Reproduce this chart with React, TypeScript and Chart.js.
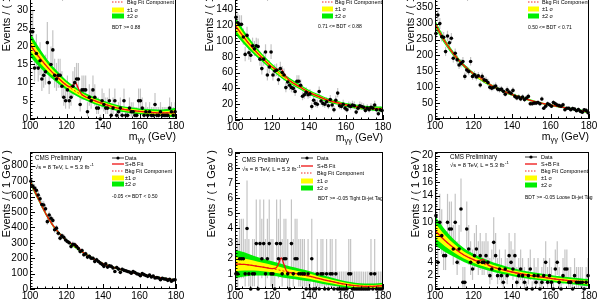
import { useEffect, useRef } from "react";
import { Chart, registerables } from "chart.js";

Chart.register(...registerables);

const FONT = "'Liberation Sans', Arial, Helvetica, sans-serif";
const RED = "#ee1111";
const GREEN = "#00ee00";
const YELLOW = "#ffff00";
const ERR_GREY = "#c4c4c4";

// Diphoton mass window, 1 GeV bins
const MASS_LO = 100;
const MASS_HI = 180;
const MASS_STEP = 20;

// Sampling points of the background fit and its uncertainty bands (GeV)
const FIT_X = [100, 105, 110, 115, 120, 125, 130, 135, 140, 145, 150, 155, 160, 165, 170, 175, 180];
// Sampling points of the signal+background fit, denser around the peak (GeV)
const SB_X = [100, 105, 110, 115, 120, 122, 123.5, 125, 126.5, 128, 130, 135, 140, 145, 150, 155, 160, 165, 170, 175, 180];

// 68% Poisson intervals for small counts
const POISSON_LO = [0, 0.173, 0.708, 1.367, 2.086, 2.84, 3.62, 4.419, 5.232, 6.057, 6.891, 7.734, 8.585, 9.441, 10.3, 11.17, 12.04, 12.92, 13.8, 14.68, 15.57, 16.45, 17.35, 18.24, 19.14, 20.03];
const POISSON_HI = [1.148, 3.3, 4.638, 5.918, 7.163, 8.382, 9.584, 10.77, 11.95, 13.11, 14.27, 15.42, 16.56, 17.7, 18.83, 19.96, 21.08, 22.2, 23.32, 24.44, 25.55, 26.66, 27.76, 28.87, 29.97, 31.06];

// ---- BDT >= 0.88
const cat0Counts = [24, 24, 14, 18, 14, 16, 11, 12, 13, 21, 10, 15, 19, 12, 11, 12, 12, 9, 6, 5, 8, 5, 6, 9, 10, 11, 11, 4, 8, 8, 8, 2, 6, 5, 8, 6, 3, 3, 0, 5, 4, 3, 3, 5, 1, 3, 5, 1, 2, 3, 1, 5, 1, 1, 3, 2, 2, 1, 1, 5, 5, 3, 1, 2, 1, 2, 1, 1, 4, 1, 1, 2, 1, 1, 1, 1, 3, 2, 1, 2];
const cat0Bkg = [20.5, 17.0, 14.0, 11.5, 9.3, 7.6, 6.2, 5.1, 4.2, 3.4, 2.8, 2.4, 2.1, 1.9, 1.7, 1.7, 1.8];
const cat0SB = [20.5, 17.0, 14.0, 11.5, 9.3, 8.8, 9.3, 9.9, 8.4, 7.0, 6.2, 5.1, 4.2, 3.4, 2.8, 2.4, 2.1, 1.9, 1.7, 1.7, 1.8];
const cat0Err1 = [1.65, 1.3, 1.0, 0.8, 0.65, 0.58, 0.5, 0.48, 0.45, 0.43, 0.4, 0.4, 0.4, 0.43, 0.45, 0.53, 0.65];
const cat0Err2 = [3.3, 2.6, 2.0, 1.6, 1.3, 1.15, 1.0, 0.95, 0.9, 0.85, 0.8, 0.8, 0.8, 0.85, 0.9, 1.05, 1.3];

// ---- 0.71 <= BDT < 0.88
const cat1Counts = [130, 123, 121, 121, 105, 83, 107, 85, 82, 94, 90, 94, 93, 77, 65, 77, 86, 57, 67, 86, 57, 62, 63, 51, 65, 60, 57, 41, 48, 44, 41, 40, 36, 49, 49, 44, 30, 32, 35, 32, 33, 17, 25, 21, 20, 36, 24, 21, 20, 23, 18, 26, 19, 13, 25, 34, 18, 17, 20, 15, 13, 18, 17, 19, 18, 10, 15, 18, 17, 16, 12, 15, 13, 16, 15, 19, 13, 8, 13, 12];
const cat1Bkg = [120, 104, 90, 78, 67, 57, 49, 42, 35, 30, 25, 22, 19, 17, 15.5, 14.5, 13.5];
const cat1SB = [120, 104, 90, 78, 67, 64.5, 64, 64, 59, 53.5, 49, 42, 35, 30, 25, 22, 19, 17, 15.5, 14.5, 13.5];
const cat1Err1 = [5.5, 4.3, 3.3, 2.5, 2.1, 1.9, 1.75, 1.6, 1.5, 1.4, 1.3, 1.25, 1.25, 1.25, 1.3, 1.4, 1.6];
const cat1Err2 = [11, 8.5, 6.5, 5, 4.2, 3.8, 3.5, 3.2, 3.0, 2.8, 2.6, 2.5, 2.5, 2.5, 2.6, 2.8, 3.2];

// ---- 0.50 <= BDT < 0.71
const cat2Counts = [269, 327, 300, 259, 257, 212, 261, 240, 254, 191, 207, 186, 170, 175, 181, 134, 154, 149, 181, 134, 139, 132, 136, 107, 134, 123, 121, 115, 100, 97, 100, 104, 94, 92, 94, 87, 78, 92, 85, 81, 90, 71, 66, 69, 63, 69, 61, 66, 71, 48, 48, 50, 50, 52, 48, 63, 34, 40, 48, 45, 40, 52, 48, 44, 42, 40, 45, 29, 34, 34, 29, 33, 31, 26, 30, 24, 21, 29, 27, 20];
const cat2Bkg = [300, 245, 202, 168, 142, 120, 103, 89, 77, 67, 58, 50, 44, 38, 33, 27, 22];
const cat2SB = [300, 245, 202, 168, 142, 135, 131, 126, 119, 111, 103, 89, 77, 67, 58, 50, 44, 38, 33, 27, 22];
const cat2Err1 = [6, 4.5, 3.5, 3, 2.5, 2.3, 2.1, 2, 1.9, 1.8, 1.7, 1.5, 1.5, 1.5, 1.6, 1.8, 2];
const cat2Err2 = [12, 9, 7, 6, 5, 4.5, 4.2, 4, 3.8, 3.5, 3.3, 3, 3, 3, 3.2, 3.5, 4];

// ---- -0.05 <= BDT < 0.50
const cat3Counts = [700, 668, 655, 640, 610, 585, 548, 545, 520, 437, 480, 459, 445, 384, 395, 362, 330, 345, 336, 318, 308, 300, 276, 290, 287, 276, 262, 243, 250, 222, 228, 207, 212, 200, 200, 179, 190, 178, 168, 160, 147, 163, 142, 150, 147, 136, 114, 140, 129, 108, 128, 121, 118, 114, 110, 103, 114, 107, 99, 95, 86, 100, 93, 88, 82, 90, 78, 84, 71, 74, 71, 60, 70, 65, 64, 56, 63, 50, 58, 60];
const cat3Bkg = [700, 575, 460, 375, 315, 270, 230, 195, 165, 143, 125, 110, 97, 86, 76, 66, 57];
const cat3SB = [700, 575, 460, 375, 315, 300, 293, 290, 270, 249, 230, 195, 165, 143, 125, 110, 97, 86, 76, 66, 57];
const cat3Err1 = [9, 7, 5.5, 4.5, 4, 3.5, 3.3, 3, 3, 2.8, 2.5, 2.5, 2.5, 2.5, 2.5, 2.8, 3.3];
const cat3Err2 = [18, 14, 11, 9, 8, 7, 6.5, 6, 6, 5.5, 5, 5, 5, 5, 5, 5.5, 6.5];

// ---- BDT >= -0.05, tight di-jet tag
const cat4Counts = [1, 1, 2, 2, 2, 1, 4, 1, 0, 1, 1, 3, 0, 3, 2, 3, 1, 2, 3, 1, 1, 0, 3, 2, 3, 1, 2, 2, 1, 0, 3, 1, 2, 2, 1, 1, 1, 1, 0, 1, 0, 2, 0, 0, 1, 0, 1, 1, 0, 1, 0, 1, 1, 0, 1, 0, 0, 0, 0, 0, 0, 1, 1, 0, 0, 0, 0, 0, 0, 0, 0, 0, 0, 1, 0, 1, 0, 0, 0, 0];
const cat4Bkg = [1.65, 1.62, 1.55, 1.45, 1.35, 1.22, 1.08, 0.97, 0.85, 0.7, 0.55, 0.42, 0.3, 0.22, 0.18, 0.18, 0.22];
const cat4SB = [1.65, 1.62, 1.55, 1.45, 1.35, 1.38, 1.65, 2.05, 1.6, 1.15, 1.08, 0.97, 0.85, 0.7, 0.55, 0.42, 0.3, 0.22, 0.18, 0.18, 0.22];
const cat4Err1 = [0.47, 0.4, 0.33, 0.28, 0.24, 0.22, 0.2, 0.19, 0.17, 0.15, 0.14, 0.12, 0.11, 0.1, 0.09, 0.09, 0.1];
const cat4Err2 = [0.95, 0.8, 0.65, 0.55, 0.48, 0.44, 0.4, 0.37, 0.34, 0.3, 0.27, 0.24, 0.21, 0.19, 0.18, 0.18, 0.2];

// ---- BDT >= -0.05, loose di-jet tag
const cat5Counts = [11, 4, 10, 8, 5, 5, 10, 9, 9, 6, 10, 4, 6, 12, 1, 1, 9, 6, 4, 3, 5, 6, 4, 5, 4, 4, 5, 4, 2, 3, 7, 5, 2, 3, 2, 1, 3, 2, 5, 4, 3, 5, 1, 2, 3, 2, 1, 0, 2, 3, 0, 2, 1, 2, 0, 1, 2, 4, 1, 2, 1, 0, 3, 4, 1, 0, 2, 3, 3, 1, 1, 0, 2, 1, 1, 1, 1, 0, 1, 2];
const cat5Bkg = [8.8, 7.3, 6.1, 5.1, 4.4, 3.8, 3.3, 2.9, 2.55, 2.25, 2.0, 1.8, 1.6, 1.4, 1.25, 1.1, 0.95];
const cat5SB = [8.8, 7.3, 6.1, 5.1, 4.4, 4.2, 4.3, 4.45, 3.9, 3.55, 3.3, 2.9, 2.55, 2.25, 2.0, 1.8, 1.6, 1.4, 1.25, 1.1, 0.95];
const cat5Err1 = [1.1, 0.85, 0.65, 0.52, 0.45, 0.4, 0.35, 0.33, 0.3, 0.29, 0.27, 0.26, 0.25, 0.25, 0.25, 0.26, 0.28];
const cat5Err2 = [2.2, 1.7, 1.3, 1.05, 0.9, 0.8, 0.7, 0.65, 0.6, 0.58, 0.55, 0.52, 0.5, 0.5, 0.5, 0.52, 0.55];

type Legend = {
  lx: number; lw: number; tx: number; rows: number[]; bx: number;
  cmsX: number; cmsY: number; lumiY: number;
};

type Panel = {
  L: number; R: number; T: number; B: number;
  yMax: number; yStep: number;
  counts: number[]; bkg: number[]; sb: number[]; err1: number[]; err2: number[];
  cut: string; yTitleX: number; yTitleTop: number; leg: Legend;
};

const PANELS: Panel[] = [
  {
    L: 30, R: 176, T: -17, B: 119, yMax: 37.4, yStep: 5,
    counts: cat0Counts, bkg: cat0Bkg, sb: cat0SB, err1: cat0Err1, err2: cat0Err2,
    cut: "BDT >= 0.88", yTitleX: 7, yTitleTop: -36,
    leg: { lx: 82, lw: 12, tx: 97, rows: [6, 12, 19, 27, 33, 45], bx: 82, cmsX: 5, cmsY: 6, lumiY: 15 },
  },
  {
    L: 235, R: 383, T: -17, B: 120, yMax: 173.3, yStep: 20,
    counts: cat1Counts, bkg: cat1Bkg, sb: cat1SB, err1: cat1Err1, err2: cat1Err2,
    cut: "0.71 <= BDT < 0.88", yTitleX: 210, yTitleTop: -36,
    leg: { lx: 87, lw: 11, tx: 100, rows: [6, 12, 19, 26, 33, 44], bx: 83, cmsX: 5, cmsY: 6, lumiY: 15 },
  },
  {
    L: 435, R: 589, T: -17, B: 119, yMax: 427.7, yStep: 50,
    counts: cat2Counts, bkg: cat2Bkg, sb: cat2SB, err1: cat2Err1, err2: cat2Err2,
    cut: "0.50 <= BDT < 0.71", yTitleX: 411, yTitleTop: -36,
    leg: { lx: 93, lw: 11, tx: 107, rows: [6, 12, 19, 26, 33, 45], bx: 93, cmsX: 5, cmsY: 6, lumiY: 15 },
  },
  {
    L: 30, R: 176, T: 152, B: 289, yMax: 889, yStep: 100,
    counts: cat3Counts, bkg: cat3Bkg, sb: cat3SB, err1: cat3Err1, err2: cat3Err2,
    cut: "-0.05 <= BDT < 0.50", yTitleX: 7, yTitleTop: 150,
    leg: { lx: 82, lw: 12, tx: 95, rows: [6, 12, 19, 26, 32, 45], bx: 82, cmsX: 5, cmsY: 6, lumiY: 15 },
  },
  {
    L: 235, R: 383, T: 152, B: 289, yMax: 9.05, yStep: 1,
    counts: cat4Counts, bkg: cat4Bkg, sb: cat4SB, err1: cat4Err1, err2: cat4Err2,
    cut: "BDT >= -0.05 Tight Di-jet Tag", yTitleX: 212, yTitleTop: 150,
    leg: { lx: 66, lw: 12, tx: 82, rows: [6, 14, 21, 29, 36, 47], bx: 83, cmsX: 7, cmsY: 8, lumiY: 17 },
  },
  {
    L: 435, R: 589, T: 152, B: 289, yMax: 20.55, yStep: 2,
    counts: cat5Counts, bkg: cat5Bkg, sb: cat5SB, err1: cat5Err1, err2: cat5Err2,
    cut: "BDT >= -0.05 Loose Di-jet Tag", yTitleX: 416, yTitleTop: 150,
    leg: { lx: 90, lw: 12, tx: 106, rows: [5, 12, 19, 26, 33, 46], bx: 90, cmsX: 15, cmsY: 5, lumiY: 13 },
  },
];

function poisson(n: number): [number, number] {
  if (n < POISSON_LO.length) return [POISSON_LO[n], POISSON_HI[n]];
  const s = Math.sqrt(n);
  return [n - s + 0.5, n + s + 0.5];
}

function drawErrorBars(chart: any) {
  const { ctx, chartArea: a, scales } = chart;
  const pts = chart.data.datasets[0].data as { x: number; y: number }[];
  ctx.save();
  ctx.beginPath();
  ctx.rect(a.left, a.top, a.right - a.left, a.bottom - a.top);
  ctx.clip();
  ctx.strokeStyle = ERR_GREY;
  ctx.lineWidth = 1.2;
  for (const pt of pts) {
    const [lo, hi] = poisson(pt.y);
    const px = scales.x.getPixelForValue(pt.x);
    ctx.beginPath();
    ctx.moveTo(px, scales.y.getPixelForValue(lo));
    ctx.lineTo(px, scales.y.getPixelForValue(hi));
    ctx.stroke();
  }
  ctx.restore();
}

function drawFrame(chart: any, p: Panel) {
  const { ctx, chartArea: a, scales } = chart;
  ctx.save();
  ctx.strokeStyle = "#000";
  ctx.lineWidth = 1;
  ctx.strokeRect(a.left + 0.5, a.top + 0.5, a.right - a.left - 1, a.bottom - a.top - 1);
  ctx.beginPath();
  for (let v = MASS_LO; v <= MASS_HI + 1e-6; v += 4) {
    const px = Math.round(scales.x.getPixelForValue(v)) + 0.5;
    const len = (v - MASS_LO) % MASS_STEP === 0 ? 5 : 2.5;
    ctx.moveTo(px, a.bottom);
    ctx.lineTo(px, a.bottom - len);
  }
  const minor = p.yStep / 5;
  for (let k = 0; k * minor <= p.yMax + 1e-9; k++) {
    const py = Math.round(scales.y.getPixelForValue(k * minor)) + 0.5;
    const len = k % 5 === 0 ? 5 : 2.5;
    ctx.moveTo(a.left, py);
    ctx.lineTo(a.left + len, py);
  }
  ctx.stroke();
  ctx.restore();
}

function drawTexts(chart: any, p: Panel) {
  const { ctx, chartArea: a } = chart;
  const lg = p.leg;
  const ox = p.L - 30;
  const oy = p.T - 8;
  ctx.save();
  ctx.fillStyle = "#000";
  ctx.textBaseline = "middle";

  // y-axis title, aligned towards the top of the axis
  ctx.save();
  ctx.translate(p.yTitleX - ox, p.yTitleTop - oy);
  ctx.rotate(-Math.PI / 2);
  ctx.textAlign = "right";
  ctx.font = `11px ${FONT}`;
  ctx.fillText("Events / ( 1 GeV )", 0, 0);
  ctx.restore();

  // x-axis title m_γγ (GeV), aligned to the right end of the axis
  ctx.textAlign = "left";
  const big = `10.5px ${FONT}`;
  const small = `7.5px ${FONT}`;
  ctx.font = big;
  const wm = ctx.measureText("m").width;
  const wu = ctx.measureText(" (GeV)").width;
  ctx.font = small;
  const wg = ctx.measureText("γγ").width;
  const xt = a.right - (wm + wg + wu);
  const yt = a.bottom + 18;
  ctx.font = big;
  ctx.fillText("m", xt, yt);
  ctx.font = small;
  ctx.fillText("γγ", xt + wm, yt + 3);
  ctx.font = big;
  ctx.fillText(" (GeV)", xt + wm + wg, yt);

  // experiment label
  ctx.font = `6.3px ${FONT}`;
  ctx.fillText("CMS Preliminary", a.left + lg.cmsX, a.top + lg.cmsY);
  ctx.font = `5.8px ${FONT}`;
  const lumi = "√s = 8 TeV, L = 5.3 fb";
  ctx.fillText(lumi, a.left + lg.cmsX, a.top + lg.lumiY);
  const wl = ctx.measureText(lumi).width;
  ctx.font = `4.3px ${FONT}`;
  ctx.fillText("-1", a.left + lg.cmsX + wl + 0.5, a.top + lg.lumiY - 2);

  // legend
  const x0 = a.left + lg.lx;
  const x1 = x0 + lg.lw;
  const tx = a.left + lg.tx;
  const r = lg.rows.map((v) => a.top + v);
  ctx.font = `5.5px ${FONT}`;

  ctx.strokeStyle = "#000";
  ctx.lineWidth = 0.8;
  ctx.beginPath();
  ctx.moveTo(x0, r[0]);
  ctx.lineTo(x1, r[0]);
  ctx.stroke();
  ctx.beginPath();
  ctx.arc((x0 + x1) / 2, r[0], 1.6, 0, Math.PI * 2);
  ctx.fill();
  ctx.fillText("Data", tx, r[0]);

  ctx.strokeStyle = RED;
  ctx.lineWidth = 1.3;
  ctx.beginPath();
  ctx.moveTo(x0, r[1]);
  ctx.lineTo(x1, r[1]);
  ctx.stroke();
  ctx.fillText("S+B Fit", tx, r[1]);

  ctx.lineWidth = 0.9;
  ctx.setLineDash([1.5, 1.5]);
  ctx.beginPath();
  ctx.moveTo(x0, r[2]);
  ctx.lineTo(x1, r[2]);
  ctx.stroke();
  ctx.setLineDash([]);
  ctx.fillText("Bkg Fit Component", tx, r[2]);

  ctx.fillStyle = YELLOW;
  ctx.fillRect(x0, r[3] - 2.5, lg.lw, 5);
  ctx.fillStyle = GREEN;
  ctx.fillRect(x0, r[4] - 2.5, lg.lw, 5);
  ctx.fillStyle = "#000";
  ctx.fillText("±1 σ", tx, r[3]);
  ctx.fillText("±2 σ", tx, r[4]);

  ctx.font = `5px ${FONT}`;
  ctx.fillText(p.cut, a.left + lg.bx, r[5]);
  ctx.restore();
}

function MassPanel({ p }: { p: Panel }) {
  const ref = useRef<HTMLCanvasElement>(null);
  const cl = p.L - 30;
  const ct = p.T - 8;
  const cw = p.R - cl + 10;
  const ch = p.B - ct + 30;

  useEffect(() => {
    const canvas = ref.current;
    if (!canvas) return;
    const points = p.counts.map((c, i) => ({ x: MASS_LO + 0.5 + i, y: c }));
    const line = (vals: number[], xs: number[]) => xs.map((x, i) => ({ x, y: vals[i] }));
    const band = (w: number[], sign: number) => FIT_X.map((x, i) => ({ x, y: p.bkg[i] + sign * w[i] }));
    const none = "rgba(0,0,0,0)";
    const curve = { pointRadius: 0, cubicInterpolationMode: "monotone" as const };
    const tickFont = { family: FONT, size: 10 };

    const chart = new Chart(canvas, {
      type: "line",
      data: {
        datasets: [
          {
            data: points, showLine: false, pointRadius: 1.8, pointBackgroundColor: "#000",
            pointBorderWidth: 0, borderColor: "#000", clip: false,
          },
          { data: line(p.sb, SB_X), borderColor: RED, borderWidth: 1.3, fill: false, ...curve },
          { data: line(p.bkg, FIT_X), borderColor: RED, borderWidth: 0.9, borderDash: [2, 2], fill: false, ...curve },
          { data: band(p.err1, 1), borderColor: none, borderWidth: 0, backgroundColor: YELLOW, fill: "+1", ...curve },
          { data: band(p.err1, -1), borderColor: none, borderWidth: 0, fill: false, ...curve },
          { data: band(p.err2, 1), borderColor: none, borderWidth: 0, backgroundColor: GREEN, fill: "+1", ...curve },
          { data: band(p.err2, -1), borderColor: none, borderWidth: 0, fill: false, ...curve },
        ],
      },
      options: {
        responsive: false,
        animation: false,
        events: [],
        layout: { padding: { top: 8, right: 10, left: 0, bottom: 0 } },
        plugins: { legend: { display: false }, tooltip: { enabled: false } },
        scales: {
          x: {
            type: "linear", min: MASS_LO, max: MASS_HI,
            grid: { display: false, drawTicks: false }, border: { display: false },
            ticks: { stepSize: MASS_STEP, autoSkip: false, maxRotation: 0, padding: 1, color: "#000", font: tickFont },
            afterFit: (s: any) => { s.height = 30; },
          },
          y: {
            type: "linear", min: 0, max: p.yMax,
            grid: { display: false, drawTicks: false }, border: { display: false },
            ticks: { stepSize: p.yStep, includeBounds: false, autoSkip: false, padding: 2, color: "#000", font: tickFont },
            afterFit: (s: any) => { s.width = 30; },
          },
        },
      },
      plugins: [
        { id: "errBars", beforeDatasetsDraw: (c: any) => drawErrorBars(c) },
        { id: "frame", afterDatasetsDraw: (c: any) => drawFrame(c, p) },
        { id: "texts", afterDraw: (c: any) => drawTexts(c, p) },
      ],
    } as any);
    return () => chart.destroy();
  }, [p]);

  return (
    <canvas
      ref={ref}
      width={cw}
      height={ch}
      style={{ position: "absolute", left: cl, top: ct, width: cw, height: ch }}
    />
  );
}

export default function App() {
  return (
    <div style={{ position: "fixed", left: 0, top: 0, width: 600, height: 300, overflow: "hidden", background: "#fff" }}>
      {PANELS.map((p, i) => (
        <MassPanel key={i} p={p} />
      ))}
    </div>
  );
}
